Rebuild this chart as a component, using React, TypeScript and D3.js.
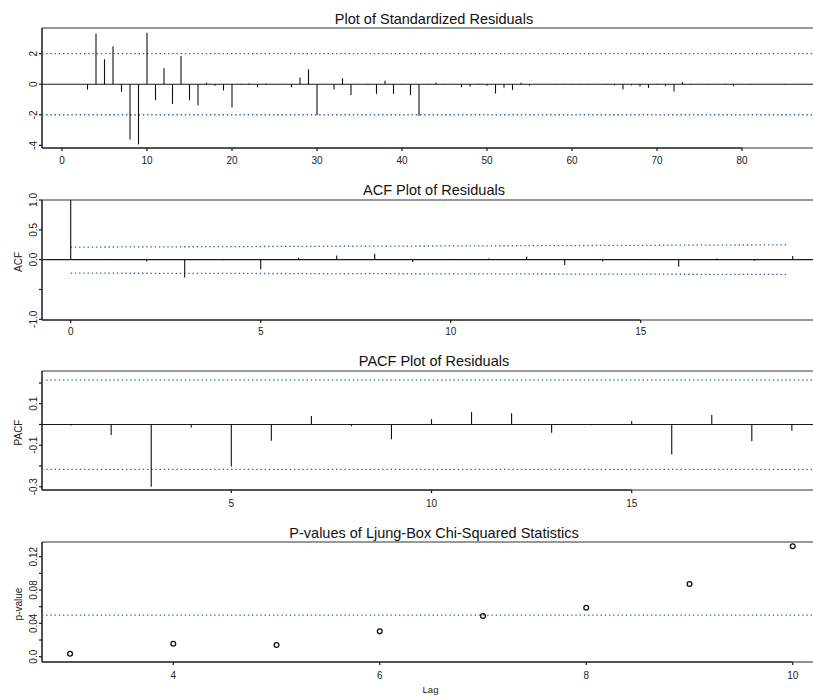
import React from "react";
import * as d3 from "d3";

// ---------- data ----------
const residuals = [
  0, 0, -0.35, 3.3, 1.63, 2.48, -0.5, -3.62, -3.94, 3.38,
  -1.05, 1.05, -1.29, 1.85, -1.05, -1.37, 0.1, -0.1, -0.41, -1.5,
  -0.05, 0.05, -0.2, 0.05, -0.03, 0, -0.2, 0.44, 0.98, -2.02,
  0, -0.35, 0.39, -0.7, 0, -0.05, -0.63, 0.22, -0.63, -0.05,
  -0.72, -2.07, -0.05, 0.1, -0.05, 0, -0.2, -0.15, 0.03, -0.1,
  -0.61, -0.22, -0.37, 0.1, -0.1, 0, 0, -0.03, 0.03, -0.03,
  -0.05, -0.03, 0, -0.05, -0.08, -0.35, -0.08, -0.15, -0.24, 0.03,
  -0.12, -0.48, 0.15, -0.05, 0, -0.05, 0, 0.03, -0.12, 0,
  -0.05, 0, 0, 0, -0.05, 0,
];
const resXTicks = [0, 10, 20, 30, 40, 50, 60, 70, 80];
const resYTicks = [-4, -2, 0, 2];
const resBands = [-2, 2];

const acfValues = [
  1.0, 0.01, -0.03, -0.3, -0.01, -0.16, 0.03, 0.07, 0.1, -0.04,
  0.01, 0.02, 0.054, -0.09, -0.03, 0.005, -0.12, 0.02, -0.02, 0.06,
];
const acfXTicks = [0, 5, 10, 15];
const acfYTicks = [-1, -0.5, 0, 0.5, 1];
const acfYLabels = ["-1.0", "", "0.0", "0.5", "1.0"];
const acfUpper = [0.21, 0.248];
const acfLower = [-0.226, -0.248];
const acfBandLags = [0, 18.9];

const pacfValues = [
  -0.005, -0.05, -0.3, -0.015, -0.203, -0.078, 0.041, -0.008, -0.071, 0.026,
  0.06, 0.054, -0.04, -0.004, 0.017, -0.145, 0.046, -0.081, -0.03,
];
const pacfXTicks = [5, 10, 15];
const pacfYTicks = [-0.3, -0.2, -0.1, 0, 0.1, 0.2];
const pacfYLabels = ["-0.3", "", "-0.1", "", "0.1", ""];
const pacfBands = [-0.216, 0.214];

const pLags = [3, 4, 5, 6, 7, 8, 9, 10];
const pValues = [0.0036, 0.0156, 0.014, 0.0304, 0.0488, 0.0588, 0.0872, 0.1325];
const pXTicks = [4, 6, 8, 10];
const pYTicks = [0, 0.02, 0.04, 0.06, 0.08, 0.1, 0.12];
const pYLabels = ["0.0", "", "0.04", "", "0.08", "", "0.12"];
const pBand = 0.05;

// ---------- styles ----------
const FONT = "'Liberation Sans', Arial, Helvetica, sans-serif";
const AX = "#1a1a1a";
const BLUE = "#2f68a6";
const LEFT = 42;
const RIGHT = 813;

type PanelProps = {
  title: string;
  titleY: number;
  top: number;
  bottom: number;
  x: d3.ScaleLinear<number, number>;
  y: d3.ScaleLinear<number, number>;
  xTicks: number[];
  xLabelY: number;
  yTicks: number[];
  yLabels: string[];
  yTitle?: string;
  zeroLine?: boolean;
  children?: React.ReactNode;
};

function Panel(p: PanelProps) {
  const lastTick = p.x(p.xTicks[p.xTicks.length - 1]);
  return (
    <g>
      <text x={434} y={p.titleY} textAnchor="middle" fontSize={14.5} fontFamily={FONT} fill="#111">
        {p.title}
      </text>
      {/* top border */}
      <line x1={LEFT} x2={RIGHT} y1={p.top} y2={p.top} stroke="#333" strokeWidth={1.2} />
      {/* left axis */}
      <line x1={LEFT} x2={LEFT} y1={p.top} y2={p.bottom} stroke={AX} strokeWidth={1.5} />
      {/* bottom axis */}
      <line x1={LEFT} x2={lastTick} y1={p.bottom} y2={p.bottom} stroke={AX} strokeWidth={1.6} />
      <line x1={lastTick} x2={RIGHT} y1={p.bottom} y2={p.bottom} stroke="#777" strokeWidth={1.6} />
      {p.xTicks.map((t) => (
        <g key={"xt" + t}>
          <line x1={p.x(t)} x2={p.x(t)} y1={p.bottom} y2={p.bottom + 3} stroke={AX} strokeWidth={1.2} />
          <text x={p.x(t)} y={p.xLabelY} textAnchor="middle" fontSize={10} fontFamily={FONT} fill="#222">
            {String(t)}
          </text>
        </g>
      ))}
      {p.yTicks.map((t, i) => (
        <g key={"yt" + i}>
          <line x1={LEFT - 3} x2={LEFT} y1={p.y(t)} y2={p.y(t)} stroke={AX} strokeWidth={1.2} />
          {p.yLabels[i] ? (
            <text
              transform={`translate(37,${p.y(t)}) rotate(-90)`}
              textAnchor="middle"
              fontSize={10}
              fontFamily={FONT}
              fill="#222"
            >
              {p.yLabels[i]}
            </text>
          ) : null}
        </g>
      ))}
      {p.yTitle ? (
        <text
          transform={`translate(21.5,${(p.top + p.bottom) / 2 + 2}) rotate(-90)`}
          textAnchor="middle"
          fontSize={10}
          fontFamily={FONT}
          fill="#222"
        >
          {p.yTitle}
        </text>
      ) : null}
      {p.zeroLine ? (
        <line x1={LEFT} x2={RIGHT} y1={p.y(0)} y2={p.y(0)} stroke={AX} strokeWidth={1.2} />
      ) : null}
      {p.children}
    </g>
  );
}

export default function App() {
  // panel 1: residuals
  const x1 = d3.scaleLinear().domain([0, 80]).range([62, 742]);
  const y1 = d3.scaleLinear().domain([-4, 2]).range([145.3, 53.7]);
  // panel 2: ACF
  const x2 = d3.scaleLinear().domain([0, 15]).range([70.7, 640.7]);
  const y2 = d3.scaleLinear().domain([-1, 1]).range([319.3, 200]);
  // panel 3: PACF
  const x3 = d3.scaleLinear().domain([5, 15]).range([231.3, 631.7]);
  const y3 = d3.scaleLinear().domain([-0.3, 0.1]).range([486.75, 403.75]);
  // panel 4: p-values
  const x4 = d3.scaleLinear().domain([4, 10]).range([173.3, 792.7]);
  const y4 = d3.scaleLinear().domain([0, 0.12]).range([656.7, 556.7]);

  const dots = "1.4,2.8";
  const acfUpperLine = d3.line<number>().x((_, i) => x2(acfBandLags[i])).y((d) => y2(d));

  return (
    <svg
      width={813}
      height={697}
      style={{ position: "absolute", left: 0, top: 0, background: "#fff" }}
    >
      <rect width={813} height={697} fill="#fff" />

      <Panel
        title="Plot of Standardized Residuals"
        titleY={23.5}
        top={28}
        bottom={148}
        x={x1}
        y={y1}
        xTicks={resXTicks}
        xLabelY={164}
        yTicks={resYTicks}
        yLabels={resYTicks.map(String)}
        zeroLine
      >
        {resBands.map((b) => (
          <line key={b} x1={LEFT} x2={RIGHT} y1={y1(b)} y2={y1(b)} stroke={BLUE} strokeWidth={1.3} strokeDasharray={dots} />
        ))}
        {residuals.map((v, i) => (
          <line key={i} x1={x1(i + 1)} x2={x1(i + 1)} y1={y1(0)} y2={y1(v)} stroke="#111" strokeWidth={1.1} />
        ))}
      </Panel>

      <Panel
        title="ACF Plot of Residuals"
        titleY={195}
        top={200}
        bottom={320}
        x={x2}
        y={y2}
        xTicks={acfXTicks}
        xLabelY={335}
        yTicks={acfYTicks}
        yLabels={acfYLabels}
        yTitle="ACF"
        zeroLine
      >
        <path d={acfUpperLine(acfUpper) || ""} stroke={BLUE} strokeWidth={1.3} fill="none" strokeDasharray={dots} />
        <path d={acfUpperLine(acfLower) || ""} stroke={BLUE} strokeWidth={1.3} fill="none" strokeDasharray={dots} />
        {acfValues.map((v, i) => (
          <line key={i} x1={x2(i)} x2={x2(i)} y1={y2(0)} y2={y2(v)} stroke="#111" strokeWidth={1.1} />
        ))}
      </Panel>

      <Panel
        title="PACF Plot of Residuals"
        titleY={366}
        top={371}
        bottom={490}
        x={x3}
        y={y3}
        xTicks={pacfXTicks}
        xLabelY={507}
        yTicks={pacfYTicks}
        yLabels={pacfYLabels}
        yTitle="PACF"
        zeroLine
      >
        {pacfBands.map((b) => (
          <line key={b} x1={LEFT} x2={RIGHT} y1={y3(b)} y2={y3(b)} stroke={BLUE} strokeWidth={1.3} strokeDasharray={dots} />
        ))}
        {pacfValues.map((v, i) => (
          <line key={i} x1={x3(i + 1)} x2={x3(i + 1)} y1={y3(0)} y2={y3(v)} stroke="#111" strokeWidth={1.1} />
        ))}
      </Panel>

      <Panel
        title="P-values of Ljung-Box Chi-Squared Statistics"
        titleY={537.7}
        top={542}
        bottom={662}
        x={x4}
        y={y4}
        xTicks={pXTicks}
        xLabelY={678.5}
        yTicks={pYTicks}
        yLabels={pYLabels}
        yTitle="p-value"
      >
        <line x1={LEFT} x2={RIGHT} y1={y4(pBand)} y2={y4(pBand)} stroke={BLUE} strokeWidth={1.3} strokeDasharray={dots} />
        {pValues.map((v, i) => (
          <circle key={i} cx={x4(pLags[i])} cy={y4(v)} r={2.4} fill="none" stroke="#111" strokeWidth={1.3} />
        ))}
        <text x={430.5} y={693} textAnchor="middle" fontSize={9.5} fontFamily={FONT} fill="#222">
          Lag
        </text>
      </Panel>
    </svg>
  );
}
